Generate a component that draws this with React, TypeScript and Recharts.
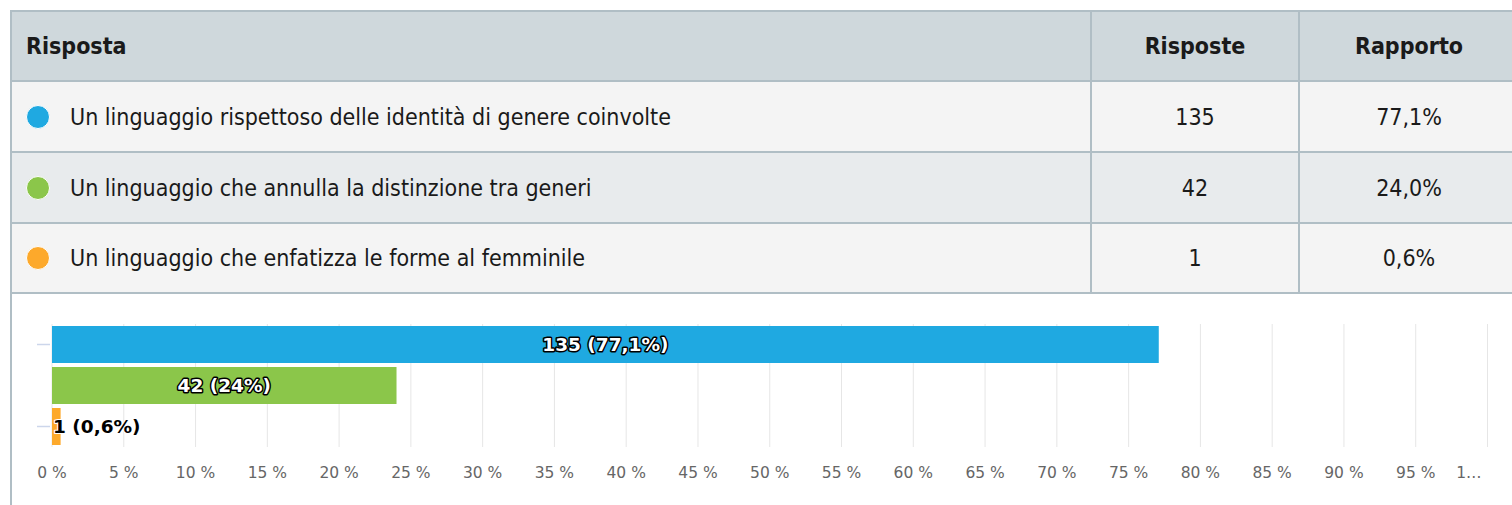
import React from 'react';
import { BarChart, Bar, XAxis, YAxis, CartesianGrid, Cell, LabelList } from 'recharts';

const headers = ['Risposta', 'Risposte', 'Rapporto'];
const answers = [
  'Un linguaggio rispettoso delle identità di genere coinvolte',
  'Un linguaggio che annulla la distinzione tra generi',
  'Un linguaggio che enfatizza le forme al femminile',
];
const counts = [135, 42, 1];
const percents = [77.1, 24.0, 0.6];
const colors = ['#1fa9e1', '#8bc64a', '#fda92b'];
const xTicks = [0, 5, 10, 15, 20, 25, 30, 35, 40, 45, 50, 55, 60, 65, 70, 75, 80, 85, 90, 95, 100];

const data = answers.map((name, i) => ({
  name,
  pct: percents[i],
  label: `${counts[i]} (${String(percents[i]).replace('.', ',')}%)`,
}));

const BORDER = '#b0bec5';
const TABLE_FONT = "'DejaVu Sans Condensed', 'DejaVu Sans', sans-serif";
const CHART_FONT = "'DejaVu Sans', Verdana, sans-serif";
const rowHeights = [69, 69, 68];
const rowBgs = ['#f4f4f4', '#e8ebed', '#f4f4f4'];

const XTick = (props: any) => {
  const { x, y, payload } = props;
  const v = payload.value;
  const last = v === xTicks[xTicks.length - 1];
  return (
    <text
      x={last ? x - 6 : x}
      y={y}
      dy="0.71em"
      textAnchor={last ? 'end' : 'middle'}
      fill="#666666"
      fontSize={15.5}
      fontFamily={CHART_FONT}
      style={{ fontStretch: 'normal' }}
    >
      {last ? '1…' : `${v} %`}
    </text>
  );
};

const YTick = (props: any) => {
  const { x, y } = props;
  return <line x1={x - 15} x2={x - 2} y1={y} y2={y} stroke="#ccd6eb" strokeWidth={1.5} />;
};

const BarLabel = (props: any) => {
  const { x, y, width, height, value } = props;
  const fits = width > 160;
  const cy = y + height / 2;
  return (
    <text
      x={fits ? x + width / 2 : x + 1}
      y={cy}
      dy="0.36em"
      textAnchor={fits ? 'middle' : 'start'}
      fill={fits ? '#ffffff' : '#000000'}
      stroke={fits ? '#000000' : '#ffffff'}
      strokeWidth={fits ? 3 : 2}
      strokeLinejoin="round"
      paintOrder="stroke"
      fontSize={18.5}
      fontWeight="bold"
      fontFamily={CHART_FONT}
      style={{ fontStretch: 'normal' }}
    >
      {value}
    </text>
  );
};

const cellBase: React.CSSProperties = {
  display: 'flex',
  alignItems: 'center',
  boxSizing: 'content-box',
  height: '100%',
};

export default function App() {
  return (
    <>
      <style>{'body{margin:0;overflow:hidden;background:#fff}'}</style>
      <div
        style={{
          position: 'absolute',
          left: 10,
          top: 10,
          width: 1502,
          height: 495,
          overflow: 'hidden',
          borderLeft: `2px solid ${BORDER}`,
          borderTop: `2px solid ${BORDER}`,
          boxSizing: 'border-box',
          fontFamily: TABLE_FONT,
          color: '#1a1a1a',
        }}
      >
        <div
          style={{
            display: 'flex',
            height: 68,
            background: '#cfd8dc',
            borderBottom: `2px solid ${BORDER}`,
            width: 1520,
            fontWeight: 'bold',
            fontSize: 23,
            fontStretch: 'condensed',
          }}
        >
          <div style={{ ...cellBase, width: 1078, borderRight: `2px solid ${BORDER}` }}>
            <span style={{ paddingLeft: 14 }}>{headers[0]}</span>
          </div>
          <div style={{ ...cellBase, width: 206, justifyContent: 'center', borderRight: `2px solid ${BORDER}` }}>
            {headers[1]}
          </div>
          <div style={{ ...cellBase, width: 218, justifyContent: 'center' }}>{headers[2]}</div>
        </div>
        {answers.map((a, i) => (
          <div
            key={a}
            style={{
              display: 'flex',
              height: rowHeights[i],
              background: rowBgs[i],
              borderBottom: `2px solid ${BORDER}`,
              width: 1520,
              fontSize: 23,
              fontStretch: 'condensed',
            }}
          >
            <div style={{ ...cellBase, width: 1078, borderRight: `2px solid ${BORDER}` }}>
              <span
                style={{
                  display: 'inline-block',
                  marginLeft: 14,
                  width: 22,
                  height: 22,
                  borderRadius: '50%',
                  background: colors[i],
                  border: '1px solid #ffffff',
                  marginRight: 20,
                  flex: 'none',
                }}
              />
              <span>{a}</span>
            </div>
            <div style={{ ...cellBase, width: 206, justifyContent: 'center', borderRight: `2px solid ${BORDER}` }}>
              {counts[i]}
            </div>
            <div style={{ ...cellBase, width: 218, justifyContent: 'center' }}>
              {percents[i].toFixed(1).replace('.', ',')}%
            </div>
          </div>
        ))}
        <div style={{ background: '#ffffff', width: 1500, height: 211, fontStretch: 'normal' }}>
          <BarChart
            width={1500}
            height={211}
            data={data}
            layout="vertical"
            margin={{ top: 30, right: 24.5, bottom: 0, left: 0 }}
            barSize={37}
          >
            <CartesianGrid horizontal={false} stroke="#e6e6e6" strokeWidth={1} />
            <XAxis
              type="number"
              domain={[0, 100]}
              ticks={xTicks}
              interval={0}
              axisLine={false}
              tickLine={false}
              tickSize={0}
              tickMargin={20}
              height={58}
              tick={<XTick />}
            />
            <YAxis
              type="category"
              dataKey="name"
              width={40}
              axisLine={false}
              tickLine={false}
              tickSize={0}
              tickMargin={0}
              interval={1}
              tick={<YTick />}
            />
            <Bar dataKey="pct" isAnimationActive={false}>
              {data.map((d, i) => (
                <Cell key={d.name} fill={colors[i]} />
              ))}
              <LabelList dataKey="label" content={<BarLabel />} />
            </Bar>
          </BarChart>
        </div>
      </div>
    </>
  );
}
